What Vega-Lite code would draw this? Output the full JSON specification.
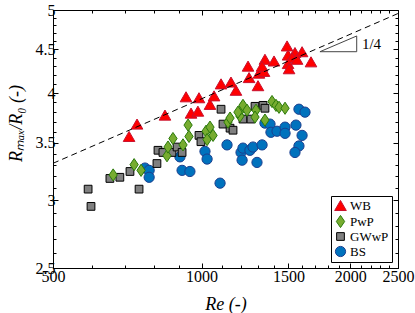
{
  "$schema": "https://vega.github.io/schema/vega-lite/v6.json",
  "width": 345,
  "height": 258,
  "autosize": {"type": "none"},
  "padding": {"left": 53, "top": 10, "right": 17, "bottom": 45},
  "background": "white",
  "config": {
    "view": {"stroke": "black", "strokeWidth": 1},
    "font": "Liberation Serif",
    "axis": {
      "domainColor": "black", "tickColor": "black", "labelColor": "black", "titleColor": "black",
      "grid": false, "labelFont": "Liberation Serif", "labelFontSize": 16,
      "titleFont": "Liberation Serif", "titleFontSize": 18, "titleFontWeight": "normal",
      "domainWidth": 1, "tickWidth": 1, "labelOverlap": false, "labelFlush": false
    },
    "legend": {
      "orient": "bottom-right", "offset": 6, "strokeColor": "black", "fillColor": "white",
      "padding": 3, "labelFont": "Liberation Serif", "labelFontSize": 13, "labelColor": "black",
      "rowPadding": 0, "symbolStrokeWidth": 1, "cornerRadius": 0, "labelOffset": 3
    }
  },
  "datasets": {
    "pts": [
      {"g": "BS", "Re": 768, "R": 3.27}, {"g": "BS", "Re": 783, "R": 3.25}, {"g": "BS", "Re": 783, "R": 3.19},
      {"g": "BS", "Re": 904, "R": 3.37}, {"g": "BS", "Re": 913, "R": 3.25}, {"g": "BS", "Re": 947, "R": 3.24},
      {"g": "BS", "Re": 1016, "R": 3.42}, {"g": "BS", "Re": 1026, "R": 3.35}, {"g": "BS", "Re": 1090, "R": 3.14},
      {"g": "BS", "Re": 1126, "R": 3.48}, {"g": "BS", "Re": 1202, "R": 3.41}, {"g": "BS", "Re": 1208, "R": 3.34},
      {"g": "BS", "Re": 1213, "R": 3.45}, {"g": "BS", "Re": 1253, "R": 3.43}, {"g": "BS", "Re": 1271, "R": 3.46},
      {"g": "BS", "Re": 1295, "R": 3.32}, {"g": "BS", "Re": 1326, "R": 3.48}, {"g": "BS", "Re": 1344, "R": 3.69},
      {"g": "BS", "Re": 1376, "R": 3.68}, {"g": "BS", "Re": 1382, "R": 3.60}, {"g": "BS", "Re": 1422, "R": 3.61},
      {"g": "BS", "Re": 1476, "R": 3.65}, {"g": "BS", "Re": 1476, "R": 3.59}, {"g": "BS", "Re": 1553, "R": 3.67},
      {"g": "BS", "Re": 1575, "R": 3.83}, {"g": "BS", "Re": 1620, "R": 3.80}, {"g": "BS", "Re": 1598, "R": 3.57},
      {"g": "BS", "Re": 1575, "R": 3.47}, {"g": "BS", "Re": 1546, "R": 3.41},
      {"g": "GWwP", "Re": 589, "R": 3.09}, {"g": "GWwP", "Re": 597, "R": 2.95}, {"g": "GWwP", "Re": 652, "R": 3.18},
      {"g": "GWwP", "Re": 683, "R": 3.19}, {"g": "GWwP", "Re": 716, "R": 3.24}, {"g": "GWwP", "Re": 747, "R": 3.09},
      {"g": "GWwP", "Re": 812, "R": 3.31}, {"g": "GWwP", "Re": 816, "R": 3.43}, {"g": "GWwP", "Re": 835, "R": 3.41},
      {"g": "GWwP", "Re": 871, "R": 3.41}, {"g": "GWwP", "Re": 892, "R": 3.46}, {"g": "GWwP", "Re": 913, "R": 3.41},
      {"g": "GWwP", "Re": 988, "R": 3.57}, {"g": "GWwP", "Re": 997, "R": 3.51}, {"g": "GWwP", "Re": 1095, "R": 3.83},
      {"g": "GWwP", "Re": 1105, "R": 3.68}, {"g": "GWwP", "Re": 1142, "R": 3.64}, {"g": "GWwP", "Re": 1158, "R": 3.62},
      {"g": "GWwP", "Re": 1213, "R": 3.73}, {"g": "GWwP", "Re": 1259, "R": 3.73}, {"g": "GWwP", "Re": 1283, "R": 3.86},
      {"g": "GWwP", "Re": 1332, "R": 3.87}, {"g": "GWwP", "Re": 1344, "R": 3.84},
      {"g": "PwP", "Re": 662, "R": 3.21}, {"g": "PwP", "Re": 730, "R": 3.30}, {"g": "PwP", "Re": 754, "R": 3.25},
      {"g": "PwP", "Re": 851, "R": 3.38}, {"g": "PwP", "Re": 855, "R": 3.46}, {"g": "PwP", "Re": 875, "R": 3.54},
      {"g": "PwP", "Re": 917, "R": 3.48}, {"g": "PwP", "Re": 939, "R": 3.67}, {"g": "PwP", "Re": 943, "R": 3.56},
      {"g": "PwP", "Re": 1021, "R": 3.61}, {"g": "PwP", "Re": 1040, "R": 3.65}, {"g": "PwP", "Re": 1055, "R": 3.57},
      {"g": "PwP", "Re": 1026, "R": 3.53}, {"g": "PwP", "Re": 1131, "R": 3.70}, {"g": "PwP", "Re": 1142, "R": 3.74},
      {"g": "PwP", "Re": 1196, "R": 3.76}, {"g": "PwP", "Re": 1208, "R": 3.84}, {"g": "PwP", "Re": 1213, "R": 3.87},
      {"g": "PwP", "Re": 1236, "R": 3.82}, {"g": "PwP", "Re": 1185, "R": 3.80}, {"g": "PwP", "Re": 1289, "R": 3.82},
      {"g": "PwP", "Re": 1283, "R": 3.75}, {"g": "PwP", "Re": 1344, "R": 3.72}, {"g": "PwP", "Re": 1389, "R": 3.91},
      {"g": "PwP", "Re": 1415, "R": 3.87}, {"g": "PwP", "Re": 1435, "R": 3.85}, {"g": "PwP", "Re": 1476, "R": 3.84},
      {"g": "WB", "Re": 713, "R": 3.56}, {"g": "WB", "Re": 740, "R": 3.68}, {"g": "WB", "Re": 843, "R": 3.77},
      {"g": "WB", "Re": 930, "R": 3.96}, {"g": "WB", "Re": 988, "R": 3.95}, {"g": "WB", "Re": 952, "R": 3.79},
      {"g": "WB", "Re": 983, "R": 3.81}, {"g": "WB", "Re": 1040, "R": 3.88}, {"g": "WB", "Re": 1060, "R": 3.97},
      {"g": "WB", "Re": 1095, "R": 4.10}, {"g": "WB", "Re": 1147, "R": 4.12}, {"g": "WB", "Re": 1174, "R": 4.03},
      {"g": "WB", "Re": 1242, "R": 4.30}, {"g": "WB", "Re": 1248, "R": 4.17}, {"g": "WB", "Re": 1301, "R": 4.08},
      {"g": "WB", "Re": 1307, "R": 4.22}, {"g": "WB", "Re": 1338, "R": 4.24}, {"g": "WB", "Re": 1344, "R": 4.38},
      {"g": "WB", "Re": 1402, "R": 4.36}, {"g": "WB", "Re": 1490, "R": 4.54}, {"g": "WB", "Re": 1497, "R": 4.43},
      {"g": "WB", "Re": 1546, "R": 4.46}, {"g": "WB", "Re": 1525, "R": 4.40}, {"g": "WB", "Re": 1598, "R": 4.47},
      {"g": "WB", "Re": 1561, "R": 4.38}, {"g": "WB", "Re": 1497, "R": 4.33}, {"g": "WB", "Re": 1504, "R": 4.27},
      {"g": "WB", "Re": 1666, "R": 4.35}, {"g": "WB", "Re": 1326, "R": 4.30}
    ],
    "fit": [{"Re": 500, "R": 3.312}, {"Re": 2500, "R": 4.953}],
    "tri": [
      {"o": 1, "Re": 1737, "R": 4.47}, {"o": 2, "Re": 2062, "R": 4.47},
      {"o": 3, "Re": 2062, "R": 4.663}, {"o": 4, "Re": 1737, "R": 4.47}
    ],
    "lab": [{"Re": 2113, "R": 4.563, "t": "1/4"}]
  },
  "layer": [
    {
      "data": {"name": "pts"},
      "mark": {"type": "point", "filled": true, "strokeWidth": 1, "opacity": 1},
      "encoding": {
        "x": {
          "field": "Re", "type": "quantitative",
          "scale": {"type": "log", "domain": [500, 2500], "nice": false, "zero": false},
          "axis": {
            "orient": "bottom",
            "values": [500, 600, 700, 800, 900, 1000, 1100, 1200, 1300, 1400, 1500, 1600, 1700, 1800, 1900, 2000, 2100, 2200, 2300, 2400, 2500],
            "labelExpr": "indexof([500,1000,1500,2000,2500], datum.value) >= 0 ? datum.value + '' : ''",
            "tickSize": {"condition": {"test": "indexof([500,1000,1500,2000,2500], datum.value) >= 0", "value": -5}, "value": -3},
            "labelPadding": 5,
            "title": "Re (-)", "titleFontStyle": "italic", "titleY": 41, "titleBaseline": "alphabetic"
          }
        },
        "y": {
          "field": "R", "type": "quantitative",
          "scale": {"type": "log", "domain": [2.5, 5], "nice": false, "zero": false},
          "axis": {
            "orient": "left",
            "values": [2.5, 2.6, 2.7, 2.8, 2.9, 3, 3.1, 3.2, 3.3, 3.4, 3.5, 3.6, 3.7, 3.8, 3.9, 4, 4.1, 4.2, 4.3, 4.4, 4.5, 4.6, 4.7, 4.8, 4.9, 5],
            "labelExpr": "abs(datum.value*2 - round(datum.value*2)) < 0.001 ? format(datum.value, '~g') : ''",
            "tickSize": {"condition": {"test": "abs(datum.value*2 - round(datum.value*2)) < 0.001", "value": -5}, "value": -3},
            "labelPadding": 3,
            "title": "Rₘₐₓ/R₀ (-)", "titleFontStyle": "italic", "titleX": -32, "titleY": 113,
            "titleAngle": -90, "titleBaseline": "alphabetic", "titleAlign": "center"
          }
        },
        "shape": {
          "field": "g", "type": "nominal",
          "scale": {"domain": ["WB", "PwP", "GWwP", "BS"], "range": ["triangle-up", "M0,-1.25L0.85,0L0,1.25L-0.85,0Z", "square", "circle"]},
          "legend": {"title": null}
        },
        "fill": {
          "field": "g", "type": "nominal",
          "scale": {"domain": ["WB", "PwP", "GWwP", "BS"], "range": ["#ff0000", "#77ac30", "#808080", "#0072bd"]},
          "legend": {"title": null}
        },
        "stroke": {
          "field": "g", "type": "nominal",
          "scale": {"domain": ["WB", "PwP", "GWwP", "BS"], "range": ["#c8102e", "#2b7a0b", "#000000", "#1b3f8f"]},
          "legend": {"title": null}
        },
        "size": {
          "field": "g", "type": "nominal",
          "scale": {"type": "ordinal", "domain": ["WB", "PwP", "GWwP", "BS"], "range": [135, 95, 60, 105]},
          "legend": {"title": null}
        }
      }
    },
    {
      "data": {"name": "fit"},
      "mark": {"type": "line", "color": "black", "strokeDash": [6, 4], "strokeWidth": 1},
      "encoding": {
        "x": {
          "field": "Re", "type": "quantitative",
          "scale": {"type": "log", "domain": [500, 2500], "nice": false, "zero": false},
          "axis": {
            "orient": "top", "labels": false, "title": null,
            "values": [500, 600, 700, 800, 900, 1000, 1100, 1200, 1300, 1400, 1500, 1600, 1700, 1800, 1900, 2000, 2100, 2200, 2300, 2400, 2500],
            "tickSize": {"condition": {"test": "indexof([500,1000,1500,2000,2500], datum.value) >= 0", "value": -5}, "value": -3}
          }
        },
        "y": {
          "field": "R", "type": "quantitative",
          "scale": {"type": "log", "domain": [2.5, 5], "nice": false, "zero": false},
          "axis": {
            "orient": "right", "labels": false, "title": null,
            "values": [2.5, 2.6, 2.7, 2.8, 2.9, 3, 3.1, 3.2, 3.3, 3.4, 3.5, 3.6, 3.7, 3.8, 3.9, 4, 4.1, 4.2, 4.3, 4.4, 4.5, 4.6, 4.7, 4.8, 4.9, 5],
            "tickSize": {"condition": {"test": "abs(datum.value*2 - round(datum.value*2)) < 0.001", "value": -5}, "value": -3}
          }
        }
      }
    },
    {
      "data": {"name": "tri"},
      "mark": {"type": "line", "color": "#444444", "strokeWidth": 1},
      "encoding": {
        "x": {"field": "Re", "type": "quantitative", "scale": {"type": "log", "domain": [500, 2500], "nice": false, "zero": false}, "axis": null},
        "y": {"field": "R", "type": "quantitative", "scale": {"type": "log", "domain": [2.5, 5], "nice": false, "zero": false}, "axis": null},
        "order": {"field": "o", "type": "quantitative"}
      }
    },
    {
      "data": {"name": "lab"},
      "mark": {"type": "text", "align": "left", "baseline": "middle", "font": "Liberation Serif", "fontSize": 15, "color": "black"},
      "encoding": {
        "x": {"field": "Re", "type": "quantitative", "scale": {"type": "log", "domain": [500, 2500], "nice": false, "zero": false}, "axis": null},
        "y": {"field": "R", "type": "quantitative", "scale": {"type": "log", "domain": [2.5, 5], "nice": false, "zero": false}, "axis": null},
        "text": {"field": "t", "type": "nominal"}
      }
    }
  ],
  "resolve": {"axis": {"x": "independent", "y": "independent"}}
}
